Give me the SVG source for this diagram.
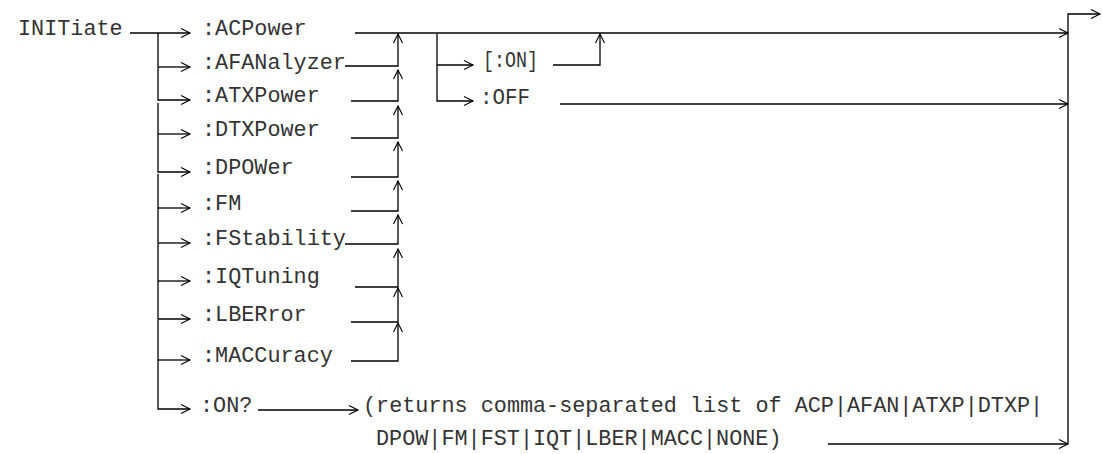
<svg xmlns="http://www.w3.org/2000/svg" width="1102" height="454" viewBox="0 0 1102 454">
<style>
text{font-family:"Liberation Mono","Courier New",monospace;font-size:21.8px;fill:#333}
.c path{fill:none;stroke:#000;stroke-width:1.3}
.a{marker-end:url(#arr)}
</style>
<defs>
<marker id="arr" markerUnits="userSpaceOnUse" markerWidth="10" markerHeight="10" refX="9" refY="4.5" orient="auto" overflow="visible">
<path d="M0,0 L9,4.5 L0,9" fill="none" stroke="#000" stroke-width="1.1"/>
</marker>
</defs>
<rect width="1102" height="454" fill="#fff"/>
<g class="c" id="connectors">
<path class="a" d="M130,33 H190"/>
<path class="a" d="M158,33 V100 H190"/>
<path class="a" d="M158,67 H190"/>
<path class="a" d="M158,103 V172 H190"/>
<path class="a" d="M158,134 H190"/>
<path class="a" d="M158,174 V319 H190"/>
<path class="a" d="M158,208 H190"/>
<path class="a" d="M158,243 H190"/>
<path class="a" d="M158,281 H190"/>
<path class="a" d="M158,320 V409 H190"/>
<path class="a" d="M158,360 H190"/>
<path class="a" d="M355,33 H1068"/>
<path class="a" d="M345,66 H398 V34"/>
<path class="a" d="M351,101 H398 V70"/>
<path class="a" d="M351,138 H398 V106"/>
<path class="a" d="M351,177 H398 V142"/>
<path class="a" d="M351,211 H398 V181"/>
<path class="a" d="M345,244 H398 V215"/>
<path class="a" d="M355,287 H398 V249"/>
<path class="a" d="M351,322 H398 V288"/>
<path class="a" d="M351,361 H398 V323"/>
<path class="a" d="M437,34 V101 H473"/>
<path class="a" d="M437,65 H473"/>
<path class="a" d="M553,65 H600 V34"/>
<path class="a" d="M560,104 H1068"/>
<path class="a" d="M258,410 H358"/>
<path class="a" d="M828,444 H1068"/>
<path class="a" d="M1068,444 V14 H1100"/>
</g>
<g id="n-initiate"><text x="18" y="35">INITiate</text></g>
<g id="n-acpower"><text x="202" y="35">:ACPower</text></g>
<g id="n-afanalyzer"><text x="202" y="69">:AFANalyzer</text></g>
<g id="n-atxpower"><text x="202" y="102">:ATXPower</text></g>
<g id="n-dtxpower"><text x="202" y="136">:DTXPower</text></g>
<g id="n-dpower"><text x="202" y="174">:DPOWer</text></g>
<g id="n-fm"><text x="202" y="210">:FM</text></g>
<g id="n-fstability"><text x="202" y="245">:FStability</text></g>
<g id="n-iqtuning"><text x="202" y="283">:IQTuning</text></g>
<g id="n-lberror"><text x="202" y="321">:LBERror</text></g>
<g id="n-maccuracy"><text x="202" y="362">:MACCuracy</text></g>
<g id="n-on-query"><text x="200" y="412">:ON?</text></g>
<g id="n-on"><text x="483" y="67" textLength="55" lengthAdjust="spacingAndGlyphs">[:ON]</text></g>
<g id="n-off"><text x="480" y="104" textLength="50" lengthAdjust="spacingAndGlyphs">:OFF</text></g>
<g id="n-returns">
<text x="363" y="412">(returns comma-separated list of ACP|AFAN|ATXP|DTXP|</text>
<text x="376" y="445">DPOW|FM|FST|IQT|LBER|MACC|NONE)</text>
</g>
</svg>
